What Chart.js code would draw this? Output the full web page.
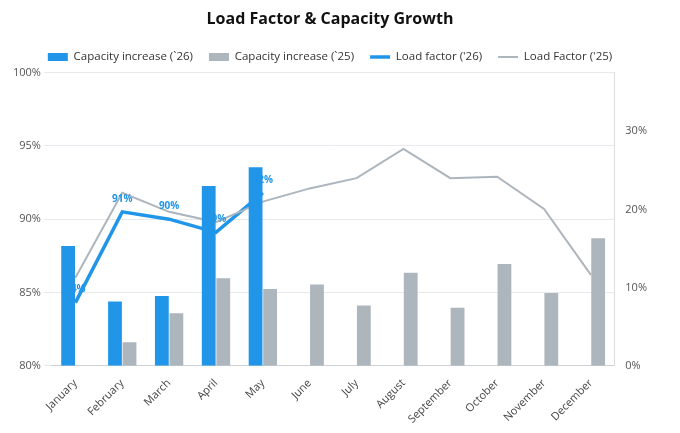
<!DOCTYPE html>
<html lang="en">
<head>
  <meta charset="UTF-8">
  <title>Load Factor & Capacity Growth</title>
  <style>
    body { margin: 0; background: #ffffff; }
    .chart-container { width: 680px; height: 433px; }
  </style>
</head>
<body>
<div class="chart-container">
  <canvas id="chart1"></canvas>
</div>
<script src="https://cdn.jsdelivr.net/npm/chart.js"></script>
<script>
  const months = ["January", "February", "March", "April", "May", "June", "July", "August", "September", "October", "November", "December"];
  const capacity26 = [15.3, 8.2, 8.9, 23.0, 25.4, null, null, null, null, null, null, null];
  const capacity25 = [null, 3.0, 6.7, 11.2, 9.8, 10.4, 7.7, 11.9, 7.4, 13.0, 9.3, 16.3];
  const loadFactor26 = [84.3, 90.5, 90.0, 89.1, 91.8, null, null, null, null, null, null, null];
  const loadFactor25 = [86.0, 91.8, 90.5, 89.8, 91.2, 92.1, 92.8, 94.8, 92.8, 92.9, 90.7, 86.2];
  const labels26 = ["84%", "91%", "90%", "89%", "92%"];

  const blue = '#2196e8';
  const grey = '#adb5bd';
  const font = "'Open Sans', sans-serif";

  // draws the blue value labels above the '26 load factor line
  const valueLabels = {
    id: 'valueLabels',
    afterDatasetsDraw(chart) {
      const meta = chart.getDatasetMeta(2);
      const ctx = chart.ctx;
      ctx.save();
      ctx.font = "bold 10px " + font;
      ctx.fillStyle = blue;
      ctx.textAlign = 'center';
      ctx.textBaseline = 'bottom';
      meta.data.forEach((pt, i) => {
        if (labels26[i]) ctx.fillText(labels26[i], pt.x, pt.y - 8);
      });
      ctx.restore();
    }
  };

  Chart.defaults.font.family = font;
  Chart.defaults.color = '#555';

  new Chart(document.getElementById('chart1'), {
    type: 'bar',
    data: {
      labels: months,
      datasets: [
        { label: "Capacity increase (`26)", data: capacity26, backgroundColor: blue, yAxisID: 'y1', order: 1, barPercentage: 0.95, categoryPercentage: 0.62, pointStyle: 'rect' },
        { label: "Capacity increase (`25)", data: capacity25, backgroundColor: grey, yAxisID: 'y1', order: 1, barPercentage: 0.95, categoryPercentage: 0.62, pointStyle: 'rect' },
        { type: 'line', label: "Load factor ('26)", data: loadFactor26, borderColor: blue, backgroundColor: blue, borderWidth: 3.5, pointRadius: 0, yAxisID: 'y', order: 4, pointStyle: 'line' },
        { type: 'line', label: "Load Factor ('25)", data: loadFactor25, borderColor: grey, backgroundColor: grey, borderWidth: 2, pointRadius: 0, yAxisID: 'y', order: 3, pointStyle: 'line' }
      ]
    },
    options: {
      responsive: true,
      maintainAspectRatio: false,
      animation: false,
      layout: { padding: { left: 10, right: 30, top: 4, bottom: 4 } },
      plugins: {
        title: { display: true, text: 'Load Factor & Capacity Growth', color: '#111', font: { size: 16, weight: 'bold' }, padding: { top: 6, bottom: 6 } },
        legend: {
          labels: {
            usePointStyle: true, pointStyleWidth: 20, boxHeight: 8, color: '#333', font: { size: 11.5 }, padding: 16,
            sort: (a, b) => a.datasetIndex - b.datasetIndex
          }
        },
        tooltip: { enabled: false }
      },
      scales: {
        x: {
          grid: { display: false },
          ticks: { maxRotation: 45, minRotation: 45, font: { size: 11 }, color: '#444' }
        },
        y: {
          position: 'left',
          min: 80, max: 100,
          border: { display: false },
          grid: { color: '#e6e9ee' },
          ticks: { stepSize: 5, callback: v => v + '%', font: { size: 11 }, color: '#555' }
        },
        y1: {
          position: 'right',
          min: 0, max: 37.5,
          border: { display: true, color: '#ddd' },
          grid: { display: false },
          ticks: { stepSize: 10, callback: v => v > 35 ? '' : v + '%', font: { size: 11 }, color: '#555' }
        }
      }
    },
    plugins: [valueLabels]
  });
</script>
</body>
</html>
